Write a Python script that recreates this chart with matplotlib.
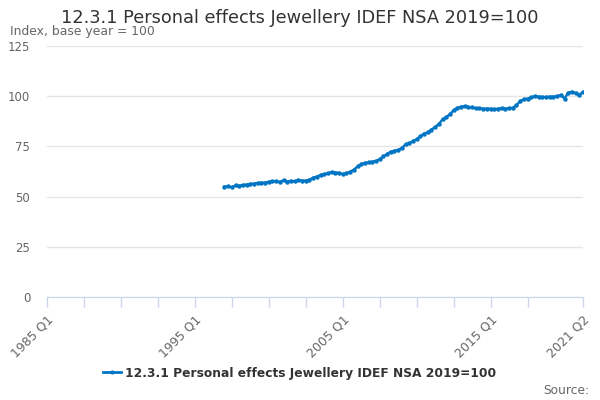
import matplotlib
matplotlib.use("Agg")
import matplotlib.pyplot as plt
from matplotlib.lines import Line2D

# quarters on the category axis, 1985 Q1 .. 2021 Q2
quarters = [f"{y} Q{q}" for y in range(1985, 2022) for q in range(1, 5)][:146]

# series starts 1997 Q1
start_label = "1997 Q1"
values = [
    55.0, 55.1, 54.6, 55.6,   # 1997
    55.4, 55.8, 56.0, 56.3,   # 1998
    56.5, 56.8, 56.9, 57.0,   # 1999
    57.4, 57.6, 57.6, 57.3,   # 2000
    58.2, 57.5, 57.8, 57.6,   # 2001
    58.3, 57.9, 58.0, 58.4,   # 2002
    59.4, 60.0, 60.8, 61.2,   # 2003
    61.6, 62.2, 62.0, 61.8,   # 2004
    61.2, 61.6, 62.4, 63.4,   # 2005
    65.0, 66.2, 66.8, 67.0,   # 2006
    67.4, 67.8, 68.6, 70.0,   # 2007
    71.2, 72.4, 72.8, 73.2,   # 2008
    74.2, 76.0, 76.6, 77.6,   # 2009
    78.6, 80.0, 81.4, 82.0,   # 2010
    83.4, 84.6, 86.2, 88.4,   # 2011
    89.6, 91.0, 93.0, 94.2,   # 2012
    94.8, 95.0, 94.6, 94.4,   # 2013
    94.0, 94.0, 93.8, 93.8,   # 2014
    93.8, 93.4, 93.8, 94.0,   # 2015
    93.8, 94.0, 94.2, 95.4,   # 2016
    97.6, 98.4, 98.8, 99.4,   # 2017
    100.0, 99.8, 99.6, 99.6,  # 2018
    99.8, 99.8, 100.0, 100.6, # 2019
    98.8, 101.8, 102.2, 101.6,# 2020
    100.6, 102.2,             # 2021
]

series_name = "12.3.1 Personal effects Jewellery IDEF NSA 2019=100"
label_ticks = ["1985 Q1", "1995 Q1", "2005 Q1", "2015 Q1", "2021 Q2"]
y_ticks = [0, 25, 50, 75, 100, 125]

line_color = "#0075c4"
grey = "#666666"

fig = plt.figure(figsize=(6, 4), dpi=100)
ax = fig.add_axes([47 / 600, 1 - 297 / 400, 536 / 600, 251 / 400])

i0 = quarters.index(start_label)
xs = list(range(i0, i0 + len(values)))
ax.plot(xs, values, color=line_color, lw=1.7, marker="o", ms=3.2, mew=0, zorder=3)

ax.set_xlim(0, len(quarters) - 1)
ax.set_ylim(0, 125)

ax.set_yticks(y_ticks)
ax.set_yticklabels([str(v) for v in y_ticks], fontsize=8.5, color=grey)
ax.tick_params(axis="y", length=0, pad=12)
ax.grid(axis="y", color="#e6e6e6", lw=1)
ax.set_axisbelow(True)

minor = list(range(0, 131, 10)) + [145]
ax.set_xticks(minor, minor=True)
ax.tick_params(axis="x", which="minor", length=7.5, color="#ccd6eb", width=1)
ax.set_xticks([quarters.index(l) for l in label_ticks])
ax.set_xticklabels(label_ticks, rotation=45, ha="right", rotation_mode="anchor",
                   fontsize=9, color=grey)
ax.tick_params(axis="x", which="major", length=7.5, color="#ccd6eb", width=1, pad=4)

for s in ["top", "right", "left"]:
    ax.spines[s].set_visible(False)
ax.spines["bottom"].set_color("#ccd6eb")

fig.text(0.5, 1 - 18 / 400, series_name, ha="center", va="center",
         fontsize=12.8, color="#333333")
fig.text(10 / 600, 1 - 32 / 400, "Index, base year = 100", ha="left", va="center",
         fontsize=8.9, color=grey)

handle = Line2D([], [], color=line_color, lw=2, marker="o", ms=3, mew=0)
fig.legend([handle], [series_name], loc="center", bbox_to_anchor=(0.5, 1 - 373 / 400),
           frameon=False, prop={"size": 8.8, "weight": "bold"}, labelcolor="#333333",
           handlelength=1.4, handletextpad=0.4)
fig.text(589 / 600, 1 - 390 / 400, "Source:", ha="right", va="center",
         fontsize=8.8, color=grey)

fig.savefig("out.png", dpi=100)
